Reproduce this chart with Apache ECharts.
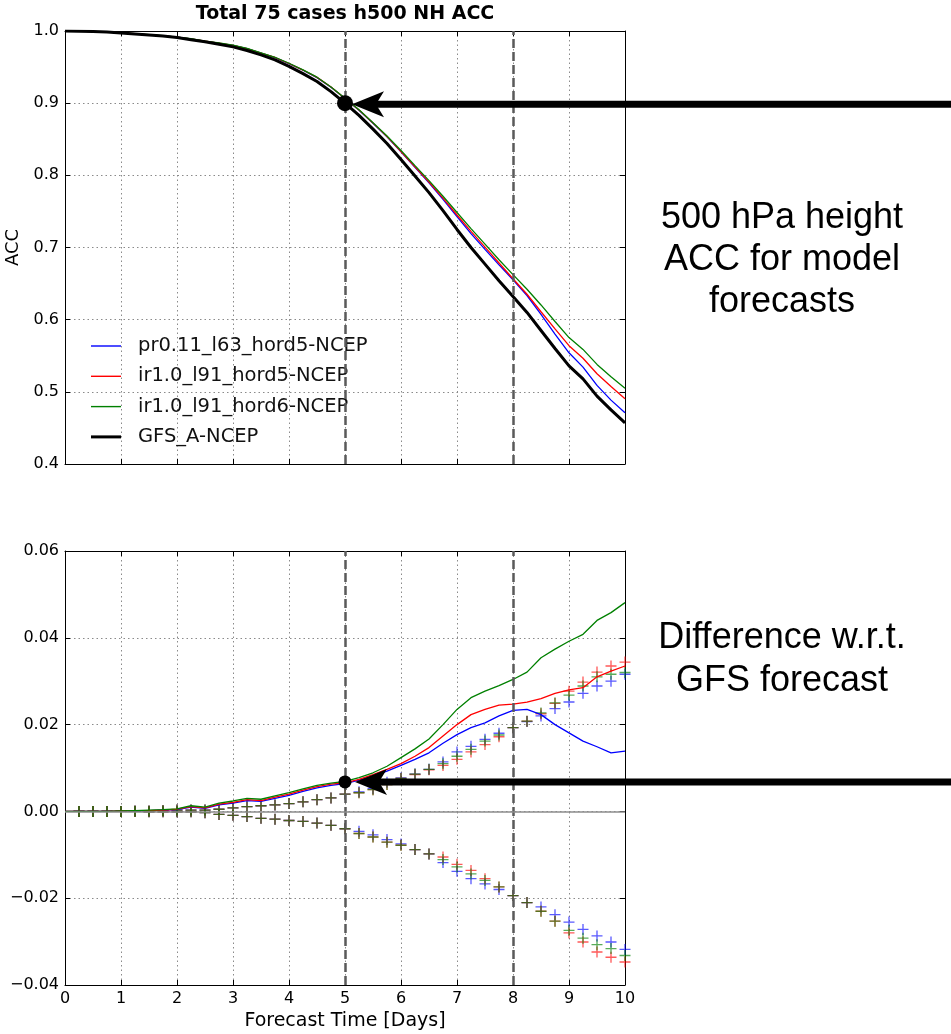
<!DOCTYPE html>
<html><head><meta charset="utf-8">
<script src="https://cdn.jsdelivr.net/npm/echarts@6/dist/echarts.min.js"></script>
<style>html,body{margin:0;padding:0;background:#fff}#c{width:951px;height:1034px}</style>
</head><body><div id="c"></div>
<script>
const days = [0,0.25,0.5,0.75,1,1.25,1.5,1.75,2,2.25,2.5,2.75,3,3.25,3.5,3.75,4,4.25,4.5,4.75,5,5.25,5.5,5.75,6,6.25,6.5,6.75,7,7.25,7.5,7.75,8,8.25,8.5,8.75,9,9.25,9.5,9.75,10];
const xTicks = [0,1,2,3,4,5,6,7,8,9,10];
const accTicks = [0.4,0.5,0.6,0.7,0.8,0.9,1.0];
const diffTicks = [-0.04,-0.02,0.00,0.02,0.04,0.06];

// GFS_A-NCEP ACC (top panel, black)
const gfsAcc = [1.000,0.9998,0.9993,0.9985,0.9972,0.9960,0.9945,0.9930,0.9910,0.9880,0.9850,0.9815,0.9780,0.9730,0.9670,0.9600,0.9510,0.9410,0.9300,0.9160,0.9000,
  0.8830,0.8640,0.8440,0.8220,0.7990,0.7760,0.7510,0.7250,0.7000,0.6770,0.6540,0.6320,0.6100,0.5850,0.5600,0.5360,0.5180,0.4940,0.4750,0.4570];

// ACC difference w.r.t. GFS (bottom panel lines)
const diffBlue = [0,0,0,0,0.0001,0.0001,0.0002,0.0003,0.0004,0.0010,0.0007,0.0015,0.0019,0.0025,0.0023,0.0030,0.0037,0.0046,0.0054,0.0060,0.0064,
  0.0072,0.0081,0.0093,0.0106,0.0120,0.0135,0.0157,0.0177,0.0193,0.0204,0.0220,0.0233,0.0235,0.0223,0.0200,0.0181,0.0162,0.0149,0.0135,0.0139];
const diffRed = [0,0,0,0,0.0001,0.0002,0.0002,0.0003,0.0005,0.0011,0.0008,0.0017,0.0021,0.0027,0.0025,0.0033,0.0040,0.0049,0.0057,0.0063,0.0066,
  0.0074,0.0085,0.0097,0.0110,0.0127,0.0147,0.0174,0.0200,0.0223,0.0235,0.0245,0.0247,0.0252,0.0260,0.0272,0.0280,0.0285,0.0310,0.0323,0.0335];
const diffGreen = [0,0,0,0,0.0001,0.0002,0.0003,0.0004,0.0006,0.0013,0.0010,0.0019,0.0024,0.0030,0.0028,0.0036,0.0043,0.0052,0.0060,0.0065,0.0069,
  0.0078,0.0089,0.0104,0.0124,0.0144,0.0167,0.0200,0.0235,0.0262,0.0277,0.0290,0.0304,0.0321,0.0354,0.0374,0.0392,0.0408,0.0440,0.0458,0.0481];

// significance bounds (crosses)
const upBlue = [null,0,0,0,0,0.0001,0.0001,0.0002,0.0003,0.0003,0.0003,0.0005,0.0008,0.0011,0.0013,0.0015,0.0018,0.0022,0.0027,0.0031,0.0040,
  0.0045,0.0053,0.0067,0.0077,0.0086,0.0097,0.0114,0.0137,0.0150,0.0166,0.0180,0.0193,0.0207,0.0220,0.0237,0.0252,0.0272,0.0289,0.0300,0.0316];
const upGreen = [null,0,0,0,0,0.0001,0.0001,0.0002,0.0003,0.0003,0.0003,0.0005,0.0008,0.0011,0.0013,0.0015,0.0018,0.0022,0.0027,0.0031,0.0040,
  0.0043,0.0050,0.0062,0.0076,0.0086,0.0097,0.0110,0.0127,0.0143,0.0162,0.0176,0.0193,0.0208,0.0227,0.0250,0.0268,0.0289,0.0310,0.0316,0.0320];
const upRed = [null,0,0,0,0,0.0001,0.0001,0.0002,0.0003,0.0003,0.0003,0.0005,0.0008,0.0011,0.0013,0.0015,0.0018,0.0022,0.0027,0.0031,0.0040,
  0.0043,0.0050,0.0062,0.0076,0.0085,0.0096,0.0106,0.0120,0.0137,0.0154,0.0172,0.0193,0.0208,0.0225,0.0249,0.0277,0.0298,0.0321,0.0335,0.0344];
const lowBlue = [null,0,0,0,0,0,-0.0001,-0.0001,-0.0001,-0.0001,-0.0003,-0.0007,-0.0009,-0.0012,-0.0016,-0.0018,-0.0021,-0.0023,-0.0027,-0.0032,-0.0040,
  -0.0046,-0.0054,-0.0065,-0.0075,-0.0088,-0.0098,-0.0118,-0.0138,-0.0155,-0.0167,-0.0180,-0.0194,-0.0210,-0.0220,-0.0238,-0.0255,-0.0272,-0.0287,-0.0301,-0.0318];
const lowGreen = [null,0,0,0,0,0,-0.0001,-0.0001,-0.0001,-0.0001,-0.0003,-0.0007,-0.0009,-0.0012,-0.0016,-0.0018,-0.0021,-0.0023,-0.0027,-0.0032,-0.0040,
  -0.0051,-0.0059,-0.0071,-0.0078,-0.0088,-0.0098,-0.0111,-0.0128,-0.0144,-0.0159,-0.0174,-0.0194,-0.0210,-0.0230,-0.0253,-0.0274,-0.0292,-0.0307,-0.0316,-0.0332];
const lowRed = [null,0,0,0,0,0,-0.0001,-0.0001,-0.0001,-0.0001,-0.0003,-0.0007,-0.0009,-0.0012,-0.0016,-0.0018,-0.0021,-0.0023,-0.0027,-0.0032,-0.0040,
  -0.0051,-0.0059,-0.0071,-0.0078,-0.0088,-0.0098,-0.0105,-0.0122,-0.0136,-0.0155,-0.0174,-0.0194,-0.0210,-0.0230,-0.0253,-0.0280,-0.0301,-0.0324,-0.0336,-0.0347];

const markTop = [5, 0.9];
const markBottom = [5, 0.0068];
const refDays = [5, 8];

const names = ['pr0.11_l63_hord5-NCEP','ir1.0_l91_hord5-NCEP','ir1.0_l91_hord6-NCEP','GFS_A-NCEP'];
const colors = ['#0000ff','#ff0000','#008000','#000000'];

const FONT = "'DejaVu Sans'";
const zip = (a, b) => a.map((v, i) => [v, b[i]]);
const addTo = (base, d) => base.map((v, i) => v + d[i]);

function xAx(grid, pos, labels, name) {
  return {
    type: 'value', gridIndex: grid, position: pos, min: xTicks[0], max: xTicks[xTicks.length-1], interval: 1,
    axisLine: {show: true, onZero: false, lineStyle: {color: '#000', width: 1}},
    axisTick: {show: true, inside: true, length: 5, lineStyle: {color: '#000'}},
    axisLabel: {show: labels, color: '#000', fontFamily: FONT, fontSize: 16, margin: 6},
    splitLine: {show: pos === 'bottom', lineStyle: {color: '#8a8a8a', type: [1.5, 3], width: 1}},
    name: name || '', nameLocation: 'middle', nameGap: 27,
    nameTextStyle: {color: '#000', fontFamily: FONT, fontSize: 19}
  };
}
function yAx(grid, pos, ticks, fmt, name, gap) {
  return {
    type: 'value', gridIndex: grid, position: pos, min: ticks[0], max: ticks[ticks.length-1], interval: ticks[1]-ticks[0],
    axisLine: {show: true, onZero: false, lineStyle: {color: '#000', width: 1}},
    axisTick: {show: true, inside: true, length: 5, lineStyle: {color: '#000'}},
    axisLabel: {show: pos === 'left', color: '#000', fontFamily: FONT, fontSize: 16, margin: 6, formatter: fmt},
    splitLine: {show: pos === 'left', lineStyle: {color: '#8a8a8a', type: [1.5, 3], width: 1}},
    name: name || '', nameLocation: 'middle', nameGap: gap || 0,
    nameTextStyle: {color: '#000', fontFamily: FONT, fontSize: 18}
  };
}

const dashLine = {color: '#5a5a5a', type: [9, 4], width: 2.5};
const crossPath = 'path://M0,4.4H4.4V0H5.6V4.4H10V5.6H5.6V10H4.4V5.6H0Z';

function crossSeries(arr, color, nm) {
  return {
    type: 'scatter', name: nm, xAxisIndex: 2, yAxisIndex: 2, symbol: crossPath, symbolSize: 11,
    itemStyle: {color: color, opacity: 0.65}, silent: true, z: 2,
    data: days.map((d, i) => arr[i] === null ? null : [d, arr[i]]).filter(p => p)
  };
}

const series = [];
// top panel
[diffBlue, diffRed, diffGreen].forEach((d, k) => {
  series.push({type: 'line', name: names[k], xAxisIndex: 0, yAxisIndex: 0, symbol: 'none',
    lineStyle: {color: colors[k], width: 1.3}, itemStyle: {color: colors[k]}, z: 3,
    data: zip(days, addTo(gfsAcc, d))});
});
series.push({type: 'line', name: names[3], xAxisIndex: 0, yAxisIndex: 0, symbol: 'none',
  lineStyle: {color: '#000', width: 3}, itemStyle: {color: '#000'}, z: 4,
  data: zip(days, gfsAcc),
  markLine: {silent: true, symbol: 'none', label: {show: false}, lineStyle: dashLine,
    data: refDays.map(v => ({xAxis: v}))}});
series.push({type: 'scatter', name: 'dotTop', xAxisIndex: 0, yAxisIndex: 0, symbolSize: 16,
  itemStyle: {color: '#000', opacity: 1}, z: 6, data: [markTop]});
// bottom panel crosses
series.push(crossSeries(upBlue, colors[0], 'ub'), crossSeries(lowBlue, colors[0], 'lb'));
series.push(crossSeries(upRed, colors[1], 'ur'), crossSeries(lowRed, colors[1], 'lr'));
series.push(crossSeries(upGreen, colors[2], 'ug'), crossSeries(lowGreen, colors[2], 'lg'));
// bottom panel lines
[diffBlue, diffRed, diffGreen].forEach((d, k) => {
  const s = {type: 'line', name: names[k] + ' diff', xAxisIndex: 2, yAxisIndex: 2, symbol: 'none',
    lineStyle: {color: colors[k], width: 1.3}, itemStyle: {color: colors[k]}, z: 3,
    data: zip(days, d)};
  if (k === 0) {
    s.markLine = {silent: true, symbol: 'none', label: {show: false},
      data: refDays.map(v => ({xAxis: v, lineStyle: dashLine}))
        .concat([{yAxis: 0, lineStyle: {color: '#8c8c8c', type: 'solid', width: 1.5}}])};
  }
  series.push(s);
});
series.push({type: 'scatter', name: 'dotBottom', xAxisIndex: 2, yAxisIndex: 2, symbolSize: 13,
  itemStyle: {color: '#000', opacity: 1}, z: 6, data: [markBottom]});

const chart = echarts.init(document.getElementById('c'), null, {renderer: 'canvas'});
const option = {
  animation: false,
  backgroundColor: '#fff',
  grid: [
    {left: 65, top: 31, width: 560, height: 433, show: false, containLabel: false, outerBoundsMode: 'none'},
    {left: 65, top: 551, width: 560, height: 434, show: false, containLabel: false, outerBoundsMode: 'none'}
  ],
  xAxis: [xAx(0, 'bottom', false), xAx(0, 'top', false), xAx(1, 'bottom', true, 'Forecast Time [Days]'), xAx(1, 'top', false)],
  yAxis: [
    yAx(0, 'left', accTicks, v => v.toFixed(1), 'ACC', 40),
    yAx(0, 'right', accTicks, v => v.toFixed(1)),
    yAx(1, 'left', diffTicks, v => v.toFixed(2).replace('-', '\u2212'), 'ACC diff', 57),
    yAx(1, 'right', diffTicks, v => v.toFixed(2))
  ],
  legend: {
    data: names.map((n, k) => ({name: n, icon: k === 3 ? 'path://M0,0H30V3H0Z' : 'path://M0,0H30V1.4H0Z'})),
    orient: 'vertical', left: 86, top: 331, itemWidth: 30, itemHeight: 14, itemGap: 10.3,
    textStyle: {color: '#111', fontFamily: FONT, fontSize: 19.5, lineHeight: 20, padding: [0, 0, 0, 12]},
    selectedMode: false
  },
  series: series
};
chart.setOption(option);

function arrow(p, tipOff, headLen, headHalf, notch, shaft) {
  const tx = p[0] + tipOff, y = p[1];
  const sx = tx + headLen - notch - 1;
  return [
    {type: 'rect', shape: {x: sx, y: y - shaft / 2, width: 951 - sx, height: shaft}, style: {fill: '#000'}, z: 100},
    {type: 'polygon', shape: {points: [[tx, y], [tx + headLen, y - headHalf], [tx + headLen - notch, y], [tx + headLen, y + headHalf]]}, style: {fill: '#000'}, z: 100}
  ];
}
const pTop = chart.convertToPixel({xAxisIndex: 0, yAxisIndex: 0}, markTop);
const pBot = chart.convertToPixel({xAxisIndex: 2, yAxisIndex: 2}, markBottom);
const ann = "36px 'Liberation Sans', Arial, sans-serif";
const txt = (t, x, y, font) => ({type: 'text', x: x, y: y, z: 100,
  style: {text: t, font: font || ann, fill: '#000', textAlign: 'center', textVerticalAlign: 'middle'}});
chart.setOption({
  graphic: [
    txt('Total 75 cases h500 NH ACC', 345, 14, "bold 19px 'DejaVu Sans'"),
    txt('500 hPa height', 782, 218),
    txt('ACC for model', 782, 260),
    txt('forecasts', 782, 302),
    txt('Difference w.r.t.', 782, 638),
    txt('GFS forecast', 782, 681)
  ].concat(arrow([pTop[0], pTop[1] + 1], 7, 32, 13, 8, 7)).concat(arrow(pBot, 10, 32, 13, 8, 7))
});
</script>
</body></html>
